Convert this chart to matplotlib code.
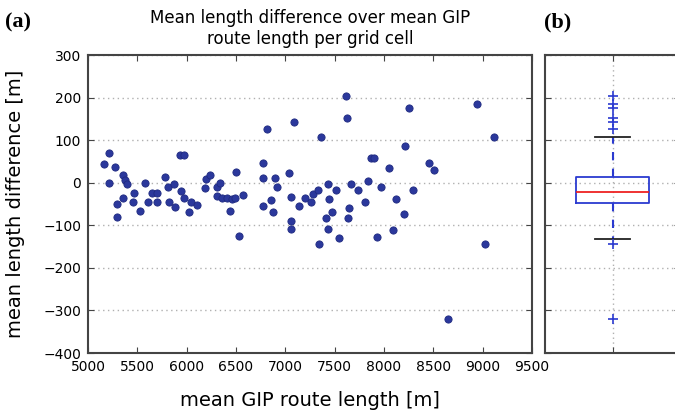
import numpy as np
import matplotlib.pyplot as plt

# mean GIP route length [m] and mean length difference [m] per grid cell
route_len = [5165, 5210, 5270, 5213, 5350, 5370, 5392, 5358, 5297, 5293,
             5469, 5453, 5522, 5575, 5612, 5646, 5696, 5696, 5778, 5814,
             5875, 5818, 5885, 5943, 5976, 6044, 6022, 6105, 5928, 5970,
             6197, 6238, 6186, 6304, 6334, 6304, 6354, 6405, 6456, 6490,
             6439, 6500, 6568, 6533, 6775, 6770, 6898, 6912, 7032, 6773,
             6855, 6870, 6812, 7085, 7365, 7054, 7055, 7055, 7138, 7199,
             7257, 7284, 7334, 7436, 7510, 7446, 7475, 7410, 7432, 7338,
             7548, 7645, 7635, 7662, 7740, 7835, 7807, 7865, 7895, 7968,
             7930, 9118, 8213, 8054, 8459, 8505, 8291, 8122, 8200, 8088,
             9020, 7612, 7622, 8257, 8939, 8652]
len_diff = [43, 70, 38, -1, 18, 6, -4, -37, -50, -80,
            -25, -46, -67, -1, -46, -25, -23, -46, 14, -11,
            -3, -46, -58, -19, -37, -45, -69, -52, 64, 64,
            8, 18, -13, -9, -1, -31, -35, -37, -38, -36,
            -67, 26, -30, -125, 46, 11, 12, -11, 24, -55,
            -41, -68, 127, 142, 108, -33, -89, -109, -55, -37,
            -45, -27, -17, -3, -18, -39, -69, -84, -109, -143,
            -131, -60, -84, -3, -17, 5, -46, 59, 59, -11,
            -127, 108, 86, 34, 47, 30, -17, -38, -74, -112,
            -143, 204, 153, 175, 184, -321]

# box plot summary as drawn in panel (b)
box_med = -21
box_q1 = -47
box_q3 = 14
whisker_lo = -133
whisker_hi = 108
box_fliers = [204, 184, 175, 153, 142, 127, -145, -321]

xticks = np.arange(5000, 9501, 500)
yticks = np.arange(-400, 301, 100)

fig = plt.figure(figsize=(6.75, 4.18), dpi=100)
ax = fig.add_axes([0.1304, 0.1555, 0.6578, 0.7129])
axb = fig.add_axes([0.8074, 0.1555, 0.2006, 0.7129])

grid_kw = dict(color='#b0b0b0', linestyle=(0, (1, 2.5)), linewidth=1.0)

# (a) scatter
ax.plot(route_len, len_diff, 'o', color='#2b389c', markeredgecolor='#1f2a80',
        markersize=5.2, markeredgewidth=0.6, zorder=3)
ax.set_xlim(5000, 9500)
ax.set_ylim(-400, 300)
ax.set_xticks(xticks)
ax.set_yticks(yticks)
ax.yaxis.grid(True, **grid_kw)
ax.tick_params(direction='in', top=True, right=True, length=4, labelsize=10,
               color='#444444', pad=5)
ax.set_title('Mean length difference over mean GIP\nroute length per grid cell',
             fontsize=12, pad=8)
ax.set_xlabel('mean GIP route length [m]', fontsize=14, labelpad=12)
ax.set_ylabel('mean length difference [m]', fontsize=14, labelpad=13)

# (b) box plot of the differences
stats = [dict(med=box_med, q1=box_q1, q3=box_q3, whislo=whisker_lo,
              whishi=whisker_hi, fliers=box_fliers)]
axb.bxp(stats, positions=[1], widths=0.54, capwidths=0.26,
        boxprops=dict(color='#2b3ad0', linewidth=1.3),
        medianprops=dict(color='#ee2222', linewidth=1.3),
        whiskerprops=dict(color='#2b3ad0', linestyle=(0, (4, 4)), linewidth=1.5),
        capprops=dict(color='#222222', linewidth=1.3),
        flierprops=dict(marker='+', markeredgecolor='#2b3ad0',
                        markersize=7, markeredgewidth=1.2))
axb.set_xlim(0.5, 1.5)
axb.set_ylim(-400, 300)
axb.set_yticks(yticks)
axb.set_xticks([1])
axb.set_xticklabels([])
axb.set_yticklabels([])
axb.grid(True, **grid_kw)
axb.tick_params(direction='in', top=True, right=True, length=4,
                color='#444444')

for a in (ax, axb):
    for s in a.spines.values():
        s.set_color('#444444')
        s.set_linewidth(1.5)

fig.text(0.008, 0.935, '(a)', fontsize=16, fontweight='bold',
         family='Liberation Serif')
fig.text(0.806, 0.935, '(b)', fontsize=16, fontweight='bold',
         family='Liberation Serif')

fig.savefig('out.png', dpi=100)
